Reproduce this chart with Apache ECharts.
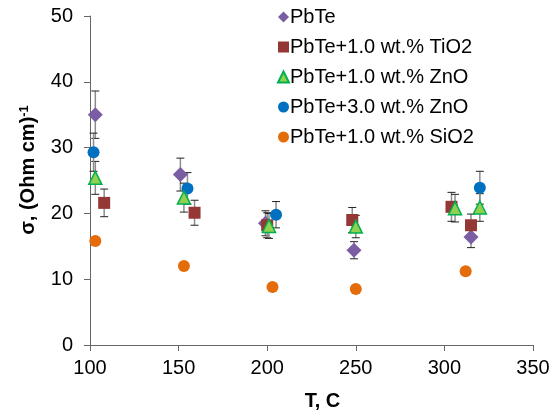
<!DOCTYPE html>
<html><head><meta charset="utf-8">
<script src="https://cdn.jsdelivr.net/npm/echarts@6/dist/echarts.min.js"></script>
<style>html,body{margin:0;padding:0;background:#fff}#c{width:553px;height:416px}</style>
</head><body><div id="c"></div>
<script>
var seriesNames = ['PbTe', 'PbTe+1.0 wt.% TiO2', 'PbTe+1.0 wt.% ZnO', 'PbTe+3.0 wt.% ZnO', 'PbTe+1.0 wt.% SiO2'];
var pbteT = [103, 151, 199, 249, 315];
var pbteS = [35.0, 25.9, 18.5, 14.4, 16.4];
var pbteE = [3.6, 2.5, 1.9, 1.3, 1.6];
var tio2T = [108, 159, 200, 248, 304, 315];
var tio2S = [21.6, 20.1, 18.2, 19.0, 21.0, 18.2];
var tio2E = [2.1, 1.9, 1.9, 1.9, 2.2, 1.7];
var zno1T = [103, 153, 201, 250, 306, 320];
var zno1S = [25.4, 22.4, 18.1, 18.0, 20.8, 20.9];
var zno1E = [2.5, 2.2, 1.9, 1.7, 2.1, 2.1];
var zno3T = [102, 155, 205, 320];
var zno3S = [29.3, 23.8, 19.8, 23.9];
var zno3E = [2.9, 2.4, 2.0, 2.5];
var sio2T = [103, 153, 203, 250, 312];
var sio2S = [15.8, 12.0, 8.8, 8.5, 11.2];
var xTicks = [100, 150, 200, 250, 300, 350];
var yTicks = [0, 10, 20, 30, 40, 50];

var FONT = '"Liberation Sans", Arial, sans-serif';
function pts(t, s, e) { return t.map(function (v, i) { return e ? [v, s[i], e[i]] : [v, s[i]]; }); }
function errSeries(t, s, e) {
  return {
    type: 'custom', silent: true, z: 1,
    data: pts(t, s, e),
    renderItem: function (params, api) {
      var x = api.value(0), y = api.value(1), e = api.value(2);
      var top = api.coord([x, y + e]), bot = api.coord([x, y - e]);
      var hw = 4;
      return { type: 'group', children: [
        { type: 'line', shape: { x1: top[0], y1: top[1], x2: bot[0], y2: bot[1] }, style: { stroke: '#8c8c8c', lineWidth: 1.5 } },
        { type: 'line', shape: { x1: top[0] - hw, y1: top[1], x2: top[0] + hw, y2: top[1] }, style: { stroke: '#222', lineWidth: 1 } },
        { type: 'line', shape: { x1: bot[0] - hw, y1: bot[1], x2: bot[0] + hw, y2: bot[1] }, style: { stroke: '#222', lineWidth: 1 } }
      ] };
    }
  };
}
var chart = echarts.init(document.getElementById('c'));
chart.setOption({
  animation: false,
  backgroundColor: '#fff',
  grid: { left: 90, right: 20, top: 16, bottom: 69 },
  xAxis: {
    type: 'value', min: 100, max: 350, interval: 50,
    name: 'T, C', nameLocation: 'middle', nameGap: 46,
    nameTextStyle: { fontFamily: FONT, fontSize: 20, fontWeight: 'bold', color: '#000', padding: [0, 0, 0, 22] },
    axisLine: { onZero: false, lineStyle: { color: '#666', width: 1 } },
    axisTick: { show: true, inside: false, length: 6, lineStyle: { color: '#666' } },
    axisLabel: { fontFamily: FONT, fontSize: 20, color: '#000', margin: 13,
      formatter: function (v) { return xTicks.indexOf(v) >= 0 ? String(v) : ''; } },
    splitLine: { show: false }
  },
  yAxis: {
    type: 'value', min: 0, max: 50, interval: 10,
    axisLine: { show: true, lineStyle: { color: '#666', width: 1 } },
    axisTick: { show: true, inside: false, length: 6, lineStyle: { color: '#666' } },
    axisLabel: { fontFamily: FONT, fontSize: 20, color: '#000', margin: 17,
      formatter: function (v) { return yTicks.indexOf(v) >= 0 ? String(v) : ''; } },
    splitLine: { show: false }
  },
  legend: {
    orient: 'vertical', left: 272, top: 2, itemGap: 10, itemWidth: 11, itemHeight: 11,
    textStyle: { fontFamily: FONT, fontSize: 20, color: '#000', padding: [0, 0, 0, -4] },
    data: seriesNames
  },
  graphic: [{
    type: 'text', x: 28, y: 170, rotation: Math.PI / 2,
    style: {
      text: '{a|σ, (Ohm cm)}{s|-1}',
      align: 'center', verticalAlign: 'middle',
      rich: {
        a: { fontFamily: FONT, fontSize: 20, fontWeight: 'bold', fill: '#000' },
        s: { fontFamily: FONT, fontSize: 13, fontWeight: 'bold', fill: '#000', verticalAlign: 'top', padding: [0, 0, 8, 0] }
      }
    }
  }],
  series: [
    errSeries(pbteT, pbteS, pbteE),
    errSeries(tio2T, tio2S, tio2E),
    errSeries(zno1T, zno1S, zno1E),
    errSeries(zno3T, zno3S, zno3E),
    { name: seriesNames[0], type: 'scatter', z: 3, symbol: 'diamond', symbolSize: 15,
      itemStyle: { color: '#7a5da3', opacity: 1 }, data: pts(pbteT, pbteS) },
    { name: seriesNames[1], type: 'scatter', z: 3, symbol: 'rect', symbolSize: 12,
      itemStyle: { color: '#953735', opacity: 1 }, data: pts(tio2T, tio2S) },
    { name: seriesNames[2], type: 'scatter', z: 4, symbol: 'triangle', symbolSize: 13,
      itemStyle: { color: '#92d050', borderColor: '#00b050', borderWidth: 1.5, opacity: 1 }, data: pts(zno1T, zno1S) },
    { name: seriesNames[3], type: 'scatter', z: 3, symbol: 'circle', symbolSize: 12,
      itemStyle: { color: '#0070c0', opacity: 1 }, data: pts(zno3T, zno3S) },
    { name: seriesNames[4], type: 'scatter', z: 3, symbol: 'circle', symbolSize: 12,
      itemStyle: { color: '#e46c0a', opacity: 1 }, data: pts(sio2T, sio2S) }
  ]
});
</script></body></html>
